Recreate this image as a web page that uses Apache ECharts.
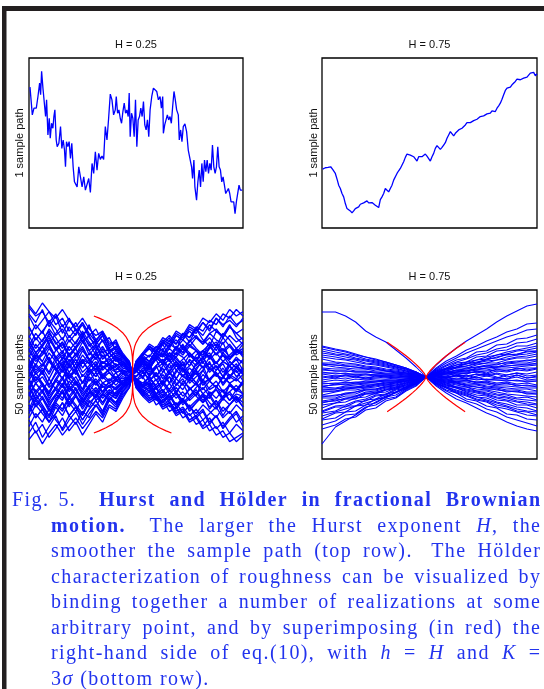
<!DOCTYPE html>
<html><head><meta charset="utf-8">
<script src="https://cdn.jsdelivr.net/npm/echarts/dist/echarts.min.js"></script>
<style>html,body{margin:0;padding:0;background:#fff;}#c{width:544px;height:689px;}</style>
</head><body><div id="c"></div>
<script>
// ---------- DATA ----------
const panelTitles = ["H = 0.25", "H = 0.75", "H = 0.25", "H = 0.75"];
const yLabels = ["1 sample path", "1 sample path", "50 sample paths", "50 sample paths"];

// top-left: one sample path, H = 0.25 (time, value)
const pathTL_t = [3,10,15,22,27,32,35,38,42,45,50,53,57,61,64,68,72,75,78,82,85,90,95,99,103,107,110,113,117,121,125,129,133,137,141,145,150,155,160,165,170,175,180,185,190,195,200,205,210,215,220,225,230,235,240,245,250,255,260,263,267,271,275,279,283,287,291,295,299,302,305,309,313,317,321,325,329,333,337,341,345,349,353,357,361,365,370,375,380,385,390,395,399,403,405,409,413,417,421,425,429,433,437,441,445,450,453,457,461,465,470,475,480,485,490,493,497,500,505,509,513,517,521,525,529,533,537,541,545,549,553,557,561,565,569,573,577,581,585,589,593,597,601,605,609,613,617,621,625,629,633,637,643];
const pathTL_v = [421,338,358,358,393,433,398,468,418,418,333,383,278,328,268,313,298,333,353,263,243,253,303,238,263,233,183,258,243,258,208,253,183,138,133,123,183,153,123,153,113,108,148,106,193,163,228,173,223,205,215,205,303,263,328,400,383,338,353,393,343,353,328,313,348,373,343,353,333,403,273,343,328,273,383,243,323,333,358,333,378,308,293,323,273,353,393,418,421,408,383,393,358,393,283,308,303,338,323,333,313,363,408,383,353,338,263,293,258,303,311,288,233,228,183,148,203,123,83,138,173,123,193,138,203,168,203,163,193,173,248,183,163,183,243,183,173,138,153,128,103,103,118,103,78,83,78,43,78,83,128,113,113];

// top-right: one sample path, H = 0.75
const pathTR_t = [2,10,18,26,32,40,46,50,55,60,65,70,75,80,85,90,95,100,105,110,115,120,125,130,135,140,145,150,155,160,165,170,175,180,185,190,195,200,205,210,215,220,225,230,235,240,245,250,255,260,265,270,275,280,285,290,295,300,305,310,315,320,325,330,335,340,345,350,355,360,365,370,375,380,385,390,395,400,405,410,415,420,425,430,435,440,445,450,455,460,465,470,475,480,485,490,495,500,505,510,515,520,525,530,535,540,545,550,555,560,565,570,575,580,585,590,595,600,605,610,615,620,625,630,635,640,645];
const pathTR_v = [176,180,181,183,175,163,143,
128,118,103,93,73,58,55,51,45,51,
58,61,63,71,73,75,78,81,75,73,
76,71,68,63,61,85,93,103,118,113,
108,118,128,143,148,163,171,178,175,198,
211,221,225,218,221,213,208,200,213,211,
213,211,221,215,213,200,213,223,238,246,
243,235,241,248,255,268,278,288,283,275,
283,288,293,295,298,300,308,315,318,315,
318,321,321,325,328,333,331,335,333,341,
343,343,350,353,348,358,365,373,385,398,
411,418,418,421,428,425,438,445,448,443,
441,448,443,451,453,463,458,465,455,461];

// bottom panels: paths bound together at t = 31
const bindT = 31;
const gridBL = [0,2,4,6,8,10,12,14,16,18,20,22,24,26,28,30,31,32,34,36,38,40,42,44,46,48,50,52,54,56,58,60,62,64];
const pathsBL = [
[14,8,13,6,11,15,9,12,5,10,7,11,4,8,3,2,0,-3,-1,-6,-2,-8,-4,-9,-3,-6,-10,-2,-7,-5,-11,-4,-8,-3],
[-16,-9,-14,-19,-11,-8,-15,-10,-13,-6,-12,-9,-5,-10,-6,-3,0,4,7,2,9,12,6,10,14,8,11,5,13,9,15,7,10,12],
[28,24,30,22,27,19,25,21,17,23,14,18,12,15,9,5,0,2,5,-1,4,7,1,6,3,-2,5,8,2,4,-1,6,3,1],
[-6,1,-4,-9,-2,3,-5,-1,-7,2,-4,-8,-3,1,-5,-2,0,-4,-7,-10,-6,-12,-9,-15,-11,-17,-13,-9,-16,-12,-19,-14,-10,-15],
[3,9,6,1,8,4,10,2,7,5,11,3,6,9,4,2,0,6,9,12,8,14,17,11,19,15,21,16,13,20,18,23,17,14],
[-27,-22,-29,-24,-19,-26,-21,-17,-23,-18,-14,-19,-12,-15,-9,-6,0,-2,-6,-3,-9,-5,-1,-8,-4,-10,-6,-3,-9,-7,-12,-5,-8,-4],
[11,17,13,19,15,10,16,12,18,14,9,13,8,11,6,4,0,5,9,6,11,14,8,13,10,16,12,9,15,11,17,13,10,14],
[4,-3,2,-5,1,6,-2,3,-4,0,5,-1,3,-2,1,-3,0,2,-1,4,-3,1,5,-2,3,0,-4,2,6,-1,3,-2,4,1],
[-5,-11,-7,-13,-9,-4,-10,-6,-12,-8,-3,-9,-5,-7,-4,-2,0,3,1,5,-1,4,7,2,6,0,5,8,3,6,1,4,7,2],
[9,4,11,7,2,8,5,10,3,7,1,6,4,2,5,1,0,-5,-9,-7,-12,-10,-15,-13,-18,-14,-20,-17,-23,-19,-25,-21,-18,-24],
[-20,-14,-18,-22,-15,-19,-13,-17,-11,-15,-9,-13,-8,-10,-6,-4,0,5,9,13,10,15,12,18,16,21,19,24,20,26,22,27,23,25],
[22,16,20,14,19,23,17,21,15,18,12,16,10,13,8,5,0,-3,-6,-4,-9,-7,-11,-8,-13,-10,-7,-12,-9,-14,-10,-8,-12,-9],
[-2,-8,-4,-10,-6,-1,-7,-3,-9,-5,-2,-6,-4,-7,-3,-1,0,-2,-5,-1,-6,-3,1,-4,-7,-2,-5,0,-3,-6,-1,-4,-2,-5],
[-1,5,1,7,3,-2,4,0,6,2,-1,3,5,1,2,-1,0,2,6,3,8,5,10,7,4,9,6,11,8,5,10,7,12,9],
[-30,-26,-32,-27,-23,-28,-24,-20,-25,-21,-17,-20,-14,-16,-10,-6,0,-3,1,-2,-5,0,-4,2,-1,-3,1,-5,-2,0,-4,-1,2,-3],
[12,7,10,14,8,11,6,9,13,7,10,5,8,4,6,3,0,6,10,8,13,11,16,14,19,17,22,20,25,23,28,26,30,27],
[-13,-7,-11,-15,-9,-12,-6,-10,-14,-8,-11,-5,-9,-6,-4,-2,0,-6,-10,-8,-14,-12,-17,-15,-20,-18,-23,-21,-26,-24,-29,-27,-31,-28],
[7,2,5,0,6,9,3,7,1,4,8,2,5,3,1,2,0,-2,-5,-3,-7,-4,-9,-6,-10,-7,-4,-9,-11,-6,-8,-12,-7,-9],
[-14,-20,-16,-22,-18,-13,-19,-15,-21,-16,-12,-17,-10,-13,-7,-4,0,4,8,6,11,9,13,16,12,15,18,14,17,13,19,16,12,15],
[31,27,29,24,28,22,26,20,24,18,21,15,17,11,8,5,0,3,7,4,8,5,9,6,2,7,4,8,10,5,9,6,3,7],
[-9,-4,-8,-2,-7,-11,-5,-9,-3,-7,-10,-4,-6,-2,-5,-1,0,1,4,-1,3,5,0,4,2,-2,3,6,1,4,-1,2,5,0],
[15,10,13,17,11,14,8,12,16,9,13,7,10,6,8,4,0,-4,-8,-6,-11,-9,-13,-16,-12,-15,-18,-14,-17,-20,-15,-18,-14,-17],
[1,-4,-1,-6,-3,2,-2,-5,0,-3,1,-4,-2,-5,-1,-2,0,3,6,4,8,10,7,12,9,13,11,8,12,14,10,13,9,11],
[17,23,19,25,21,16,22,18,24,19,15,20,13,16,9,6,0,5,9,12,10,15,13,18,16,20,17,14,19,21,17,22,19,16],
[-17,-11,-15,-19,-13,-16,-10,-14,-18,-12,-15,-9,-12,-8,-5,-3,0,-4,-8,-6,-10,-13,-9,-14,-11,-15,-12,-9,-13,-16,-11,-14,-10,-13],
[-3,4,0,6,2,-2,5,1,-4,3,-1,4,1,-2,2,1,0,-1,2,-3,0,-5,1,-2,3,-4,-1,2,-3,1,-4,0,-2,3],
[-24,-18,-22,-16,-21,-25,-19,-23,-17,-20,-14,-18,-11,-14,-8,-5,0,3,6,2,8,5,9,4,7,10,6,3,8,5,9,4,7,6],
[4,10,6,12,8,3,9,5,11,7,4,9,5,7,3,2,0,-5,-9,-12,-10,-15,-13,-18,-16,-21,-19,-24,-20,-25,-22,-27,-23,-26],
[18,12,16,20,14,17,11,15,19,13,16,10,12,8,6,3,0,2,-2,4,-1,3,-4,1,5,-2,2,-3,3,0,-2,4,-1,2],
[-6,-12,-8,-14,-10,-5,-11,-7,-13,-9,-6,-10,-7,-9,-5,-3,0,-3,-6,-4,-9,-7,-11,-8,-12,-6,-10,-13,-8,-11,-7,-12,-9,-10],
[6,1,4,8,2,5,-1,3,7,1,4,-2,3,1,2,0,0,5,9,13,11,16,14,19,17,22,20,24,21,26,23,25,22,26],
[-9,-15,-11,-17,-13,-8,-14,-10,-16,-11,-8,-13,-9,-11,-6,-3,0,-4,-8,-11,-9,-14,-12,-17,-15,-19,-16,-21,-18,-15,-20,-17,-22,-19],
[8,14,10,16,12,7,13,9,15,11,7,12,8,10,5,3,0,2,6,3,7,1,5,8,4,6,2,7,9,3,6,4,8,5],
[-7,-1,-5,-9,-3,-6,0,-4,-8,-2,-5,-1,-4,-2,-3,-1,0,4,8,6,11,9,14,12,16,13,17,15,19,16,14,18,15,17],
[27,21,25,29,23,26,20,24,18,22,16,19,14,15,10,6,0,-2,-5,-1,-6,-3,-7,-2,-5,0,-4,-7,-3,-6,-1,-4,-7,-3],
[-21,-27,-23,-29,-25,-20,-26,-22,-28,-23,-18,-22,-15,-17,-11,-6,0,-4,-8,-11,-9,-13,-10,-15,-12,-16,-13,-10,-15,-12,-17,-14,-11,-15],
[11,6,9,13,7,10,4,8,12,6,9,5,7,4,5,2,0,3,7,5,10,8,12,9,13,10,7,11,14,9,12,8,11,10],
[2,-3,1,-5,0,4,-2,2,-4,0,3,-2,1,-3,0,-1,0,-2,-4,-1,-6,-3,-8,-5,-2,-7,-4,-9,-6,-3,-8,-5,-7,-4],
[13,19,15,21,17,12,18,14,20,15,11,16,10,12,7,4,0,5,9,13,11,15,18,14,19,17,21,18,23,20,17,22,19,21],
[-18,-12,-16,-20,-14,-17,-11,-15,-19,-13,-10,-14,-9,-11,-6,-4,0,-1,3,0,4,-2,2,5,-1,3,0,4,-3,2,5,-1,3,0],
[2,8,4,10,6,1,7,3,9,5,2,6,3,5,2,1,0,-3,-7,-5,-10,-8,-12,-9,-14,-11,-8,-13,-10,-15,-11,-9,-13,-10],
[-10,-4,-8,-12,-6,-9,-3,-7,-11,-5,-8,-4,-6,-3,-4,-1,0,2,5,3,7,9,6,10,8,4,9,11,7,10,6,9,12,8],
[16,10,14,18,12,15,9,13,17,11,14,8,10,7,6,2,0,-1,2,-3,1,-4,-1,-5,0,-3,2,-4,-2,1,-5,-1,-3,0],
[-8,-14,-10,-16,-12,-7,-13,-9,-15,-10,-7,-11,-8,-9,-5,-2,0,3,6,9,7,11,8,13,10,14,11,9,13,15,11,14,10,12],
[5,0,3,-2,4,7,1,5,-1,3,6,0,2,4,1,-1,0,-6,-10,-13,-11,-16,-14,-19,-17,-22,-20,-25,-23,-28,-26,-31,-29,-27],
[-14,-20,-16,-22,-18,-13,-19,-15,-21,-16,-12,-17,-11,-13,-8,-4,0,-5,-9,-12,-10,-15,-13,-18,-16,-21,-19,-16,-22,-19,-24,-20,-17,-22],
[22,16,20,24,18,21,15,19,23,17,14,18,11,13,8,5,0,3,7,5,9,6,10,8,12,9,6,11,8,13,9,7,11,9],
[-6,-1,-4,-8,-2,-5,1,-3,-7,-1,-4,0,-3,-1,-2,-1,0,6,10,14,12,17,15,20,18,23,21,26,24,28,25,30,27,29],
[32,28,33,29,26,30,25,22,26,21,18,20,15,14,9,6,0,2,5,1,4,7,3,6,1,4,8,3,5,2,6,4,1,3],
[-3,-9,-5,-11,-7,-2,-8,-4,-10,-6,-3,-8,-5,-6,-3,-2,0,-2,-5,-8,-6,-10,-7,-11,-8,-12,-9,-6,-10,-7,-11,-8,-5,-9]
];

const gridBR = [0,4,7,10,13,16,19,22,25,28,31,34,37,40,43,46,49,52,55,58,61,64];
const pathsBR = [
[65,65,61,55,46,40,35,27,19,10,0,2,1,4,3,6,4,8,6,9,7,9],
[-67,-50,-44,-38,-31,-25,-20,-15,-10,-5,0,-3,-5,-6,-9,-10,-12,-12,-15,-14,-17,-17],
[-52,-48,-42,-40,-33,-31,-24,-21,-14,-9,0,4,8,10,14,14,18,19,23,22,26,26],
[-48,-44,-38,-37,-30,-28,-22,-20,-13,-8,0,-5,-9,-11,-15,-18,-19,-23,-24,-28,-28,-31],
[-43,-41,-35,-34,-28,-26,-20,-18,-12,-7,0,1,-1,2,0,3,1,-1,2,4,1,2],
[-42,-36,-35,-29,-28,-22,-21,-15,-12,-6,0,6,9,14,15,20,21,26,27,31,31,34],
[-36,-34,-29,-29,-23,-22,-17,-15,-10,-6,0,-2,-2,-5,-3,-6,-5,-8,-6,-9,-8,-10],
[-35,-30,-30,-25,-24,-19,-18,-13,-11,-5,0,3,4,7,6,9,11,10,13,14,14,16],
[-34,-29,-28,-24,-22,-18,-17,-12,-10,-5,0,-7,-13,-16,-22,-24,-29,-31,-37,-38,-42,-43],
[-31,-26,-25,-21,-20,-16,-15,-11,-9,-5,0,1,3,2,4,5,3,6,5,7,6,8],
[-28,-26,-22,-22,-17,-17,-13,-12,-8,-5,0,7,12,17,19,25,26,32,33,38,39,42],
[-25,-24,-21,-20,-16,-16,-12,-11,-7,-4,0,-4,-6,-10,-10,-14,-14,-17,-18,-21,-20,-23],
[-24,-22,-19,-19,-15,-14,-11,-10,-6,-4,0,1,-1,2,-2,1,3,0,-2,2,-1,1],
[-21,-21,-17,-17,-13,-13,-10,-9,-6,-4,0,3,6,9,9,12,14,14,17,19,19,21],
[-19,-19,-16,-15,-12,-12,-9,-8,-5,-3,0,-6,-11,-15,-18,-22,-24,-28,-30,-34,-35,-38],
[-18,-15,-13,-13,-11,-10,-8,-7,-4,-3,0,2,3,5,5,7,7,9,9,10,11,12],
[-14,-14,-12,-11,-10,-8,-8,-6,-4,-3,0,-2,-4,-5,-7,-7,-9,-10,-11,-12,-12,-14],
[-12,-12,-10,-10,-8,-8,-6,-5,-4,-2,0,5,8,12,13,17,18,22,23,26,27,29],
[-10,-11,-9,-8,-7,-7,-5,-5,-3,-2,0,-8,-14,-19,-24,-27,-32,-35,-40,-43,-46,-49],
[-10,-7,-8,-6,-6,-5,-4,-4,-2,-1,0,1,0,2,1,3,2,4,2,4,3,5],
[-6,-7,-5,-6,-4,-4,-3,-3,-2,-1,0,4,7,10,11,14,16,17,20,22,23,25],
[-5,-3,-4,-2,-3,-2,-2,-1,-1,0,0,-4,-8,-10,-13,-15,-17,-20,-21,-24,-25,-27],
[-3,-1,-2,0,-2,-1,0,-1,-1,0,0,2,4,5,7,7,9,10,11,12,12,14],
[1,-1,2,0,-1,1,0,-1,1,0,0,-1,-2,-3,-3,-5,-4,-6,-5,-7,-6,-8],
[3,1,2,2,1,2,1,1,0,0,0,6,11,15,18,22,24,28,30,34,35,38],
[5,3,4,2,3,2,2,1,1,0,0,-6,-10,-13,-16,-20,-21,-25,-27,-30,-31,-34],
[8,6,6,5,5,4,3,3,2,1,0,3,5,7,8,10,11,13,14,15,17,17],
[9,8,8,6,6,5,4,4,3,1,0,0,-1,1,-2,0,-3,-1,-2,0,-3,-2],
[12,10,9,8,8,6,6,4,3,2,0,9,16,21,27,31,36,40,45,48,53,54],
[13,12,11,10,8,8,6,5,4,2,0,-3,-4,-6,-8,-8,-10,-11,-13,-13,-15,-15],
[14,14,12,12,10,9,7,6,4,3,0,4,6,9,11,13,14,17,18,20,21,23],
[18,15,14,13,11,10,8,7,5,3,0,-7,-11,-16,-19,-23,-25,-30,-32,-35,-38,-39],
[20,18,17,15,13,12,10,8,6,3,0,5,9,12,15,17,20,22,25,27,29,31],
[22,20,18,17,14,13,11,9,6,4,0,-2,-3,-5,-5,-7,-7,-9,-9,-10,-11,-11],
[24,22,20,18,16,14,12,10,7,4,0,12,21,29,36,42,48,55,61,66,71,73],
[26,23,22,19,17,15,13,10,8,4,0,-4,-7,-10,-12,-14,-16,-18,-20,-22,-23,-24],
[28,25,23,21,18,16,14,11,8,5,0,3,5,6,9,10,12,12,15,16,16,18],
[30,27,25,22,20,17,15,12,9,5,0,-9,-16,-22,-26,-31,-36,-40,-45,-49,-52,-54],
[31,28,26,23,20,18,15,12,9,5,0,8,14,19,24,28,32,36,40,43,47,48],
[-26,-23,-22,-19,-17,-15,-13,-10,-8,-4,0,-1,0,-2,-1,-3,-2,-3,-4,-3,-5,-4],
[-20,-18,-17,-15,-13,-12,-10,-8,-6,-3,0,-3,-6,-8,-10,-12,-13,-15,-17,-18,-19,-20],
[-13,-12,-11,-10,-9,-7,-6,-5,-4,-2,0,2,3,4,4,5,6,7,7,8,9,9],
[-7,-6,-6,-5,-5,-4,-3,-3,-2,-1,0,-5,-8,-11,-14,-16,-18,-21,-23,-25,-27,-28],
[-1,1,0,1,-1,0,1,0,0,0,0,-2,-3,-4,-4,-5,-6,-7,-7,-8,-9,-9],
[7,6,6,5,5,4,3,3,2,1,0,-6,-10,-14,-17,-20,-23,-26,-29,-32,-34,-35],
[13,12,11,10,9,8,6,5,4,2,0,4,8,10,13,15,17,20,22,23,25,26],
[-39,-35,-32,-29,-26,-23,-19,-16,-11,-7,0,-1,1,0,2,-1,1,3,0,2,-1,0],
[-9,-8,-7,-7,-6,-5,-4,-4,-3,-2,0,-3,-5,-7,-8,-10,-11,-13,-14,-15,-16,-17],
[4,4,3,3,3,2,2,2,1,1,0,-1,-1,-2,-2,-2,-3,-3,-3,-4,-4,-4],
[-15,-14,-12,-11,-10,-9,-7,-6,-4,-3,0,2,4,5,6,8,9,10,11,12,13,13]
];

// red envelopes (right-hand side of eq.(10)), offset from bind point
const redBL_dx = [0,0.02,0.1,0.3,0.6,1,2,3,4.5,6,8,10,11.6];
const redBL_dy = [0,5.5,8.2,10.8,12.9,14.6,17.4,19.3,21.3,22.9,24.6,26.0,27.0];
const redBR_dx = [0,0.5,1,2,3,4,5,6,7,8,9,10,11.6];
const redBR_dy = [0,3.3,5.5,9.3,12.6,15.6,18.5,21.2,23.8,26.3,28.7,31.1,34.8];

const captionLines = [
  ["Fig.", "5.", "*Hurst*", "*and*", "*Hölder*", "*in*", "*fractional*", "*Brownian*"],
  ["*motion.*", "The", "larger", "the", "Hurst", "exponent", "_H_,", "the"],
  ["smoother", "the", "sample", "path", "(top", "row).", "The", "Hölder"],
  ["characterization", "of", "roughness", "can", "be", "visualized", "by"],
  ["binding", "together", "a", "number", "of", "realizations", "at", "some"],
  ["arbitrary", "point,", "and", "by", "superimposing", "(in", "red)", "the"],
  ["right-hand", "side", "of", "eq.(10),", "with", "_h_", "=", "_H_", "and", "_K_", "="],
  ["3_σ_", "(bottom", "row)."]
];

// ---------- LAYOUT / STYLE ----------
const grids = [
  {left: 29, top: 58, width: 214, height: 170},
  {left: 322, top: 58, width: 215, height: 170},
  {left: 29, top: 290, width: 214, height: 169},
  {left: 322, top: 290, width: 215, height: 169}
];
const xr = [[0,645],[0,645],[0,64],[0,64]];
const yr = [[0,508],[0,508],[-39,39],[-82,87]];
const BLUE = '#0000ff', RED = '#ff0000';
const CAP_FONT = '"Liberation Serif", "Times New Roman", serif';
const CAP_SIZE = 20, CAP_TRACK = 1.4, CAP_COLOR = '#2233ee', CAP_RIGHT = 540, CAP_BASE0 = 507, CAP_STEP = 25.5;
const LBL_FONT = '11px "Liberation Sans", Arial, sans-serif';

function ls(gi, data, color, width, z) {
  return {type: 'line', xAxisIndex: gi, yAxisIndex: gi, data: data, showSymbol: false, symbol: 'none',
    silent: true, animation: false, clip: true, z: z, lineStyle: {color: color, width: width}};
}
const series = [];
series.push(ls(0, pathTL_t.map((t, i) => [t, pathTL_v[i]]), BLUE, 1.3, 2));
series.push(ls(1, pathTR_t.map((t, i) => [t, pathTR_v[i]]), BLUE, 1.3, 2));
pathsBL.forEach(r => series.push(ls(2, gridBL.map((t, i) => [t, r[i]]), BLUE, 1.3, 2)));
pathsBR.forEach(r => series.push(ls(3, gridBR.map((t, i) => [t, r[i]]), BLUE, 1.05, 2)));
function envelope(gi, dx, dy) {
  const n = dx.length;
  [1, -1].forEach(sg => {
    const d = [];
    for (let i = n - 1; i >= 0; i--) d.push([bindT - dx[i], sg * dy[i]]);
    for (let i = 1; i < n; i++) d.push([bindT + dx[i], sg * dy[i]]);
    series.push(ls(gi, d, RED, 1.2, 5));
  });
}
envelope(2, redBL_dx, redBL_dy);
envelope(3, redBR_dx, redBR_dy);

// ---------- GRAPHIC TEXT ----------
const elements = [];
elements.push({type: 'rect', shape: {x: 2, y: 6, width: 542, height: 5}, style: {fill: '#231f20'}, silent: true});
elements.push({type: 'rect', shape: {x: 2, y: 6, width: 4.5, height: 683}, style: {fill: '#231f20'}, silent: true});
const titleY = [45, 45, 277, 277];
const labelX = [20, 314, 20, 314];
grids.forEach((g, i) => {
  elements.push({type: 'text', x: g.left + g.width / 2, y: titleY[i], silent: true,
    style: {text: panelTitles[i], font: LBL_FONT, fill: '#111', textAlign: 'center', textVerticalAlign: 'middle', align: 'center', verticalAlign: 'middle'}});
  elements.push({type: 'text', x: labelX[i], y: g.top + g.height / 2, rotation: Math.PI / 2, silent: true,
    style: {text: yLabels[i], font: LBL_FONT, fill: '#111', textAlign: 'center', textVerticalAlign: 'middle', align: 'center', verticalAlign: 'middle'}});
});

const meas = document.createElement('canvas').getContext('2d');
function fontOf(s) { return (s === 'b' ? 'bold ' : s === 'i' ? 'italic ' : '') + CAP_SIZE + 'px ' + CAP_FONT; }
function charW(c, s) { meas.font = fontOf(s); return meas.measureText(c).width; }
function pieces(w) {
  const out = []; const re = /(\*[^*]+\*|_[^_]+_)/g; let last = 0, m;
  while ((m = re.exec(w))) {
    if (m.index > last) out.push([w.slice(last, m.index), 'n']);
    out.push([m[0].slice(1, -1), m[0][0] === '*' ? 'b' : 'i']);
    last = m.index + m[0].length;
  }
  if (last < w.length) out.push([w.slice(last), 'n']);
  return out;
}
function wordWidth(ps) {
  let w = 0, n = 0;
  ps.forEach(p => { for (const c of p[0]) { w += charW(c, p[1]); n++; } });
  return w + CAP_TRACK * Math.max(0, n - 1);
}
captionLines.forEach((words, li) => {
  const x0 = li === 0 ? 12 : 51;
  const yMid = CAP_BASE0 + li * CAP_STEP - CAP_SIZE * 0.3;
  const wp = words.map(pieces);
  const ww = wp.map(wordWidth);
  const weights = words.slice(0, -1).map(w => w === 'Fig.' ? 0.7 : (/\.\*?$/.test(w) ? 1.6 : 1));
  const justify = li < captionLines.length - 1;
  const total = ww.reduce((a, b) => a + b, 0);
  const sumW = weights.reduce((a, b) => a + b, 0);
  let unit = justify ? (CAP_RIGHT - x0 - total) / sumW : 8;
  if (unit < 4) unit = 4;
  let x = x0;
  wp.forEach((ps, wi) => {
    let first = true;
    ps.forEach(p => {
      for (const c of p[0]) {
        if (!first) x += CAP_TRACK;
        first = false;
        elements.push({type: 'text', x: x, y: yMid, silent: true,
          style: {text: c, font: fontOf(p[1]), fill: CAP_COLOR, textAlign: 'left', textVerticalAlign: 'middle', align: 'left', verticalAlign: 'middle'}});
        x += charW(c, p[1]);
      }
    });
    if (wi < weights.length) x += unit * weights[wi];
  });
});

const chart = echarts.init(document.getElementById('c'), null, {renderer: 'canvas'});
chart.setOption({
  backgroundColor: '#ffffff',
  animation: false,
  grid: grids.map(g => Object.assign({show: true, borderColor: '#000', borderWidth: 1.3, backgroundColor: 'transparent', containLabel: false}, g)),
  xAxis: xr.map((r, i) => ({gridIndex: i, type: 'value', min: r[0], max: r[1], show: false})),
  yAxis: yr.map((r, i) => ({gridIndex: i, type: 'value', min: r[0], max: r[1], show: false})),
  series: series,
  graphic: {elements: elements}
});
</script></body></html>
